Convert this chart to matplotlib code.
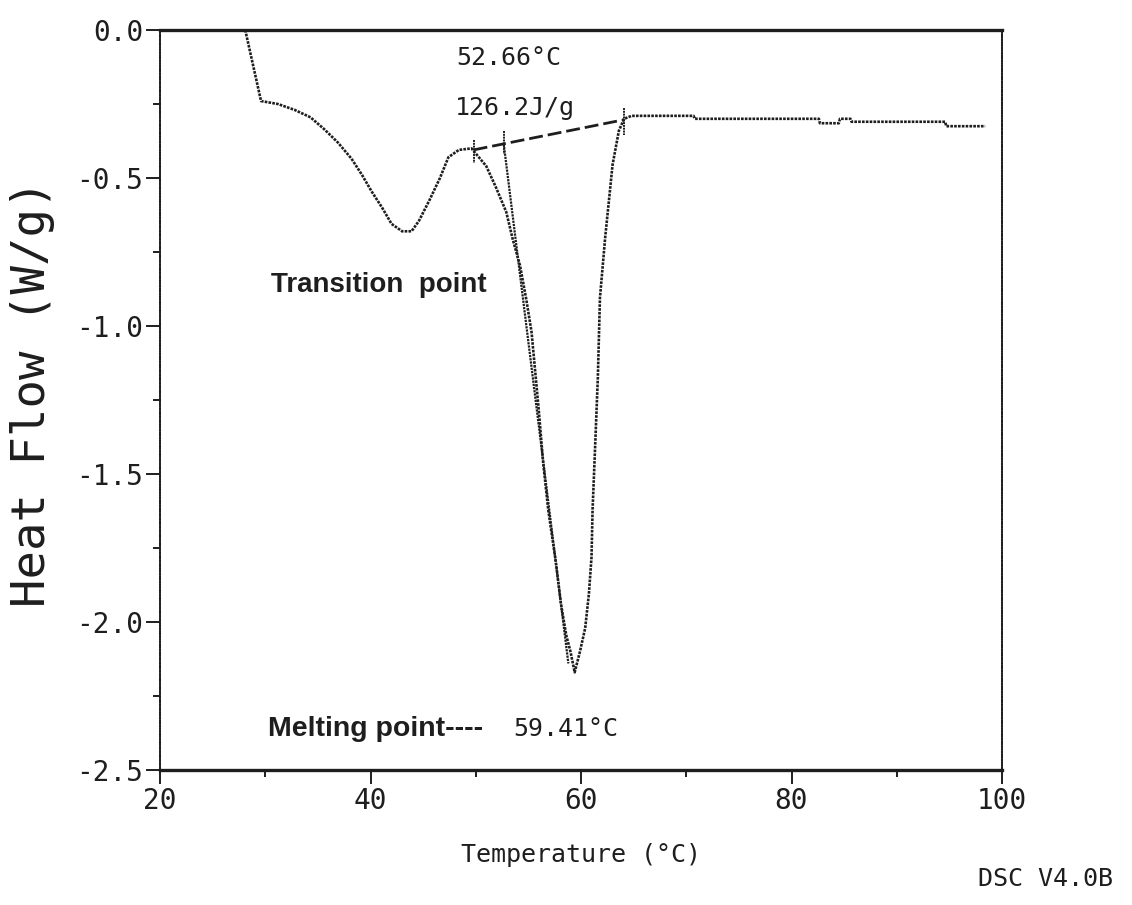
import matplotlib.pyplot as plt
from matplotlib import font_manager
from matplotlib.ticker import MultipleLocator

# DSC trace
temp = [28.1, 29.6, 31.2, 32.8, 34.3, 35.6, 36.9, 38.2, 39.2, 40.1, 41.1, 42.0,
        43.0, 43.9, 44.6, 45.6, 46.6, 47.4, 48.4, 49.6, 51.0, 51.9, 52.9, 53.5,
        54.2, 54.8, 55.3, 55.6, 56.0, 56.4, 56.9, 57.6, 58.1, 58.6, 59.0, 59.4,
        59.9, 60.4, 60.75, 61.0, 61.1, 61.3, 61.6, 61.8, 62.3, 63.0, 63.6, 64.1,
        64.8, 70.7, 70.8, 82.6, 82.7, 84.5, 84.6, 85.6, 85.7, 94.6, 94.7, 98.4]
heat_flow = [0.0, -0.24, -0.25, -0.27, -0.295, -0.335, -0.38, -0.435, -0.49, -0.545,
             -0.60, -0.655, -0.68, -0.68, -0.645, -0.575, -0.50, -0.43, -0.405, -0.40,
             -0.46, -0.53, -0.615, -0.705, -0.795, -0.91, -1.02, -1.135, -1.29, -1.46,
             -1.625, -1.795, -1.94, -2.045, -2.10, -2.17, -2.10, -2.02, -1.905, -1.78,
             -1.62, -1.445, -1.175, -0.905, -0.70, -0.455, -0.34, -0.30, -0.29, -0.29,
             -0.30, -0.30, -0.315, -0.315, -0.30, -0.30, -0.31, -0.31, -0.325, -0.325]

# integration baseline and onset tangent
base_temp = [49.8, 64.1]
base_flow = [-0.405, -0.303]
onset_temp = [52.66, 58.8]
onset_flow = [-0.385, -2.14]

x_ticks = [20, 40, 60, 80, 100]
y_ticks = [0.0, -0.5, -1.0, -1.5, -2.0, -2.5]

names = {f.name for f in font_manager.fontManager.ttflist}
plotter_font = 'Liberation Sans Narrow' if 'Liberation Sans Narrow' in names else 'DejaVu Sans Mono'
bold_font = 'Liberation Sans' if 'Liberation Sans' in names else 'DejaVu Sans'

plt.rcParams['axes.unicode_minus'] = False
ink = '#1e1e1e'
dots = (0, (1.0, 0.45))

fig = plt.figure(figsize=(11.32, 9.05), dpi=100)
ax = fig.add_axes([160 / 1132, 1 - 770 / 905, 842 / 1132, 740 / 905])

ax.plot(temp, heat_flow, color=ink, lw=1.9, ls=dots)
ax.plot(base_temp, base_flow, color=ink, lw=2.0, ls=(0, (5, 1.8)))
ax.plot(onset_temp, onset_flow, color=ink, lw=1.6, ls=dots)
# marker ticks on the baseline
ax.plot([base_temp[0], base_temp[0]], [-0.37, -0.45], color=ink, lw=1.4, ls=dots)
ax.plot([onset_temp[0], onset_temp[0]], [-0.34, -0.42], color=ink, lw=1.4, ls=dots)
ax.plot([base_temp[1], base_temp[1]], [-0.265, -0.355], color=ink, lw=1.4, ls=dots)

ax.set_xlim(20, 100)
ax.set_ylim(-2.5, 0.0)
ax.set_xticks(x_ticks)
ax.set_yticks(y_ticks)
ax.set_xticklabels([str(t) for t in x_ticks])
ax.set_yticklabels(['%.1f' % v for v in y_ticks])
ax.xaxis.set_minor_locator(MultipleLocator(10))
ax.yaxis.set_minor_locator(MultipleLocator(0.25))

ax.tick_params(axis='both', which='major', direction='out', length=10, width=1.4,
               color=ink, labelcolor=ink, labelsize=20, pad=2)
ax.tick_params(axis='both', which='minor', direction='out', length=5, width=1.4, color=ink)
for lab in ax.get_xticklabels() + ax.get_yticklabels():
    lab.set_fontfamily(plotter_font)

for side in ['top', 'bottom']:
    ax.spines[side].set_linewidth(2.4)
    ax.spines[side].set_color(ink)
for side in ['left', 'right']:
    ax.spines[side].set_linewidth(1.3)
    ax.spines[side].set_linestyle(dots)
    ax.spines[side].set_color(ink)

ax.set_xlabel('Temperature (°C)', fontfamily=plotter_font, fontsize=18,
              color=ink, va='center')
ax.xaxis.set_label_coords(0.5, -0.115)
ax.set_ylabel('Heat Flow (W/g)', fontfamily=plotter_font, fontsize=34,
              color=ink, va='center')
ax.yaxis.set_label_coords(-0.151, 0.509)

ax.text(53.1, -0.095, '52.66°C', fontfamily=plotter_font, fontsize=18,
        color=ink, ha='center', va='center')
ax.text(53.7, -0.264, '126.2J/g', fontfamily=plotter_font, fontsize=18,
        color=ink, ha='center', va='center')
ax.text(30.5, -0.86, 'Transition  point', fontfamily=bold_font, fontweight='bold',
        fontsize=20, color=ink, ha='left', va='center')
ax.text(30.3, -2.36, 'Melting point----', fontfamily=bold_font, fontweight='bold',
        fontsize=20.5, color=ink, ha='left', va='center')
ax.text(53.6, -2.36, '59.41°C', fontfamily=plotter_font, fontsize=18,
        color=ink, ha='left', va='center')

fig.text(1045 / 1132, 1 - 879 / 905, 'DSC V4.0B', fontfamily=plotter_font,
         fontsize=18, color=ink, ha='center', va='center')

fig.savefig('out.png', dpi=100, facecolor='white')
